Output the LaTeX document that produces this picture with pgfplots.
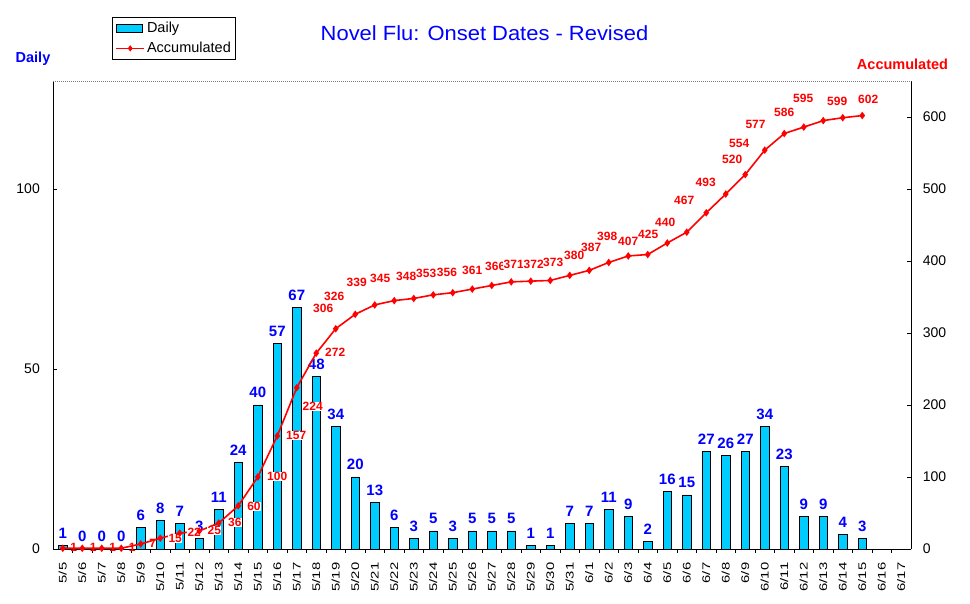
\documentclass[border=0pt]{standalone}
\usepackage{pgfplots}
\pgfplotsset{compat=1.18}
\usepackage{pgfplotstable}
\usepackage{fontspec}
\setmainfont{Liberation Sans}
\newfontfamily\xtfont[FakeStretch=1.35]{Liberation Sans}
\newfontfamily\titlefont[FakeStretch=1.07]{Liberation Sans}
\definecolor{barcyan}{RGB}{0,204,255}
\definecolor{lblue}{RGB}{0,0,255}
\definecolor{lred}{RGB}{255,0,0}

\pgfplotstableread{
i d
0 1
1 0
2 0
3 0
4 6
5 8
6 7
7 3
8 11
9 24
10 40
11 57
12 67
13 48
14 34
15 20
16 13
17 6
18 3
19 5
20 3
21 5
22 5
23 5
24 1
25 1
26 7
27 7
28 11
29 9
30 2
31 16
32 15
33 27
34 26
35 27
36 34
37 23
38 9
39 9
40 4
41 3
}\daily

\pgfplotstableread{
i acc dx ys s f
0 1 11 -4.6 1 0
1 1 11 -4.6 1 0
2 1 11 -4.6 1 0
3 1 11 -4.6 1 0
4 7 12 -4.6 1 0
5 15 15 -5.6 1 1
6 22 14.5 -4.6 1 1
7 25 15 -4.6 1 1
8 36 16 -4.6 1 1
9 60 15.7 -5.6 1 1
10 100 19.5 -4.6 1 1
11 157 19 -4.6 1 1
12 224 16 -24.2 1 1
13 272 19 -4.6 1 1
14 306 -12.5 15.4 1 1
15 326 -21 13.0 1 1
16 339 -18 17.1 1 1
17 345 -14 16.4 1 1
18 348 -7.5 17.0 1 1
19 353 -7 15.7 1 1
20 356 -5.8 15.3 1 1
21 361 0 13.7 1 1
22 366 3.5 13.4 1 1
23 371 2.5 11.8 1 1
24 372 3 11.1 1 1
25 373 3 12.3 1 1
26 380 4.5 14.4 1 1
27 387 2 18.1 1 1
28 398 -1.5 21.1 1 1
29 407 0 9.7 1 1
30 409 0 30 0 0
31 425 -19 3.4 1 1
32 440 -21.5 4.9 1 1
33 467 -22 7.4 1 1
34 493 -20 6.4 1 1
35 520 -13 9.4 1 1
36 554 -25.5 1.4 1 1
37 577 -28.7 4.0 1 1
38 586 -19.5 9.2 1 1
39 595 -20 17.0 1 1
40 599 -5.5 11.4 1 1
41 602 6 11.0 1 1
}\accum

\begin{document}
\begin{tikzpicture}
\path[use as bounding box] (-53bp,-55bp) rectangle (917bp,549bp);
\begin{axis}[
  at={(0,0)}, anchor=south west,
  scale only axis, width=858bp, height=468bp,
  xmin=-0.5, xmax=43.5, ymin=0, ymax=130,
  axis x line*=bottom, axis y line*=left,
  axis line style={black, line width=0.8bp},
  xtick={0,...,43},
  xticklabels={5/5,5/6,5/7,5/8,5/9,5/10,5/11,5/12,5/13,5/14,5/15,5/16,5/17,5/18,5/19,5/20,5/21,5/22,5/23,5/24,5/25,5/26,5/27,5/28,5/29,5/30,5/31,6/1,6/2,6/3,6/4,6/5,6/6,6/7,6/8,6/9,6/10,6/11,6/12,6/13,6/14,6/15,6/16,6/17},
  minor xtick={0.5,1.5,...,42.5},
  major x tick style={draw=none},
  minor x tick style={black, line width=0.8bp},
  minor tick length=4bp,
  major tick length=4bp,
  ytick={0,50,100},
  y tick style={black, line width=0.8bp},
  tick align=inside,
  xticklabel style={yshift=-9.5bp, rotate=90, anchor=east, inner sep=0pt, font=\xtfont\fontsize{11bp}{13bp}\selectfont},
  yticklabel style={inner sep=0pt, xshift=-13bp, font=\fontsize{14bp}{16bp}\selectfont},
  /pgf/number format/assume math mode=true,
  ybar, bar width=8.5bp,
  clip=false,
]
\addplot[fill=barcyan, draw=black, line width=0.8bp,
  nodes near coords,
  nodes near coords style={lblue, font=\bfseries\fontsize{15bp}{17bp}\selectfont, inner sep=0pt, yshift=6.5bp}]
  table[x=i,y=d] {\daily};
\end{axis}
\begin{axis}[
  at={(0,0)}, anchor=south west,
  scale only axis, width=858bp, height=468bp,
  xmin=-0.5, xmax=43.5, ymin=0, ymax=650,
  axis x line=none, axis y line*=right,
  axis line style={black, line width=0.8bp},
  ytick={0,100,...,600},
  y tick style={black, line width=0.8bp},
  tick align=inside, major tick length=4bp,
  yticklabel style={inner sep=0pt, xshift=11.7bp, font=\fontsize{14bp}{16bp}\selectfont},
  /pgf/number format/assume math mode=true,
  clip=false,
  legend style={at={(axis description cs:0.0688,1.1368)}, anchor=north west, draw=black, line width=0.8bp,
    font=\fontsize{14.5bp}{17bp}\selectfont, inner xsep=3bp, inner ysep=3bp, row sep=4bp, cells={anchor=west}},
]
\addlegendimage{legend image code/.code={\draw[fill=barcyan,draw=black,line width=0.8bp] (0bp,-4.3bp) rectangle (26bp,4.3bp);}}
\addlegendentry{Daily}
\addlegendimage{legend image code/.code={\draw[lred,line width=1.6bp] (0bp,0bp) -- (28bp,0bp); \draw[lred] plot[mark=diamond*, mark size=2.5bp] coordinates {(14bp,0bp)};}}
\addlegendentry{Accumulated}
\addplot[forget plot, lred, line width=1.6bp, mark=diamond*, mark size=2.5bp, mark options={solid},
  point meta=explicit,
  visualization depends on={\thisrow{dx}\as\dxv},
  visualization depends on={\thisrow{ys}\as\ysv},
  visualization depends on={\thisrow{s}\as\showl},
  visualization depends on={\thisrow{f}\as\fillop},
  nodes near coords,
  nodes near coords style={lred, font=\bfseries\fontsize{12bp}{14bp}\selectfont, fill=white, fill opacity=\fillop, text opacity=\showl, inner sep=0.3bp, xshift=\dxv bp, yshift=\ysv bp},
] table[x=i,y=acc,meta=acc] {\accum};
\end{axis}
\draw[gray, dash pattern=on 1bp off 1bp, line width=0.8bp] (0bp,468bp) -- (858bp,468bp);
\node[anchor=base, lblue, font=\titlefont\fontsize{20.5bp}{24bp}\selectfont] at (431.5bp,508bp) {Novel Flu: Onset Dates - Revised};
\node[anchor=base, lblue, font=\bfseries\fontsize{14.5bp}{17bp}\selectfont] at (-20bp,486.3bp) {Daily};
\node[anchor=base, lred, font=\bfseries\fontsize{14.5bp}{17bp}\selectfont] at (849.5bp,479.7bp) {Accumulated};
\end{tikzpicture}
\end{document}
